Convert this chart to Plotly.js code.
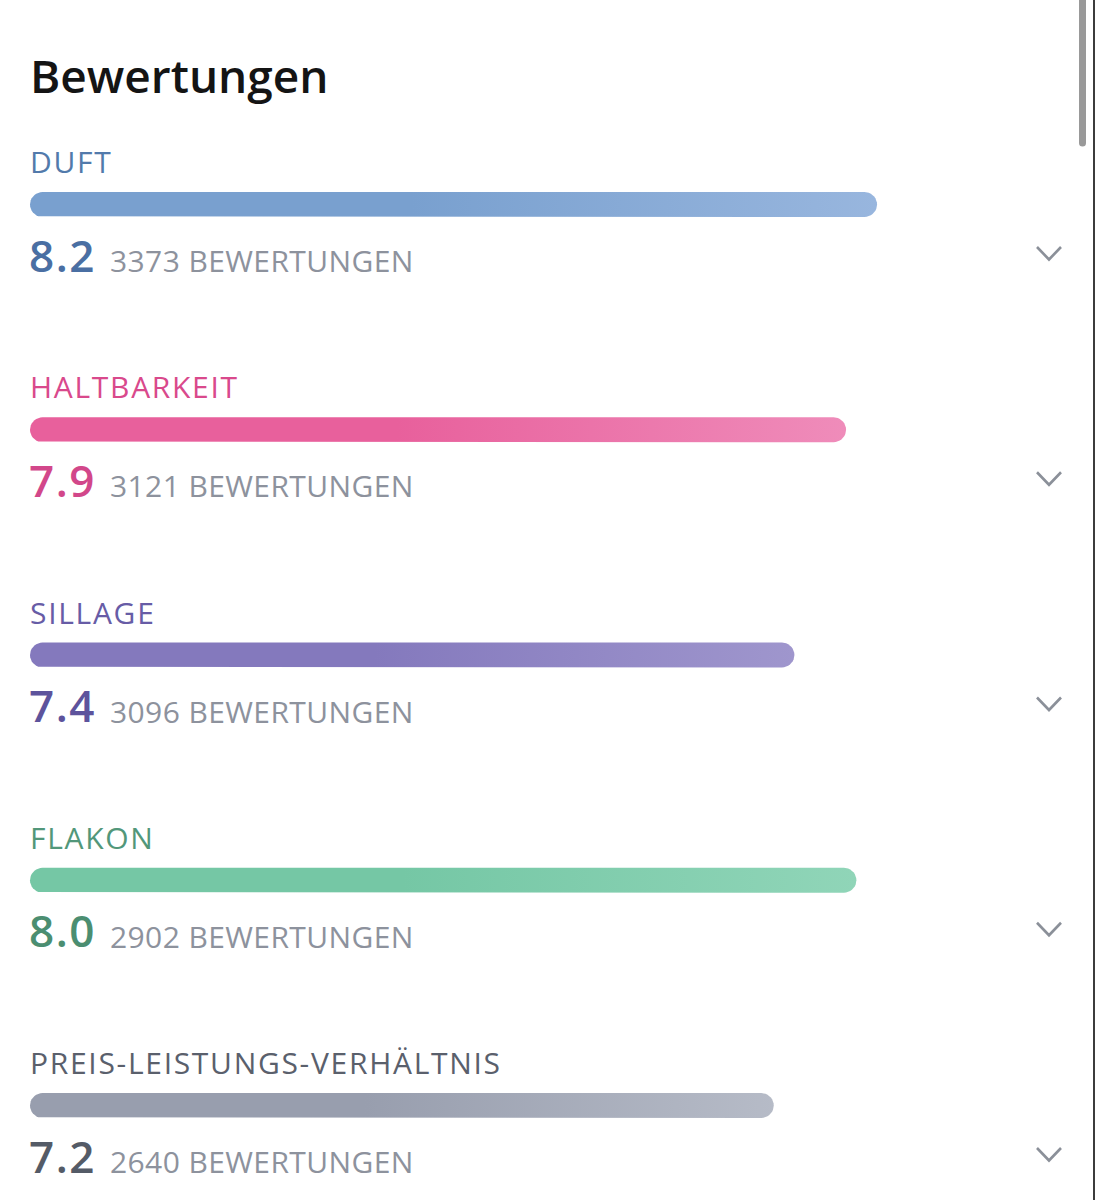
<!DOCTYPE html>
<html>
<head>
<meta charset="utf-8">
<script src="https://cdn.plot.ly/plotly-3.0.1.min.js"></script>
<style>
  html, body { margin: 0; padding: 0; background: #ffffff; }
  #chart { width: 1095px; height: 1200px; }
</style>
</head>
<body>
<div id="chart"></div>
<script>
// Rating categories and their scores (scale 0–10) with vote counts
const categories = ['DUFT', 'HALTBARKEIT', 'SILLAGE', 'FLAKON', 'PREIS-LEISTUNGS-VERHÄLTNIS'];
const scores = [8.2, 7.9, 7.4, 8.0, 7.2];
const votes = [3373, 3121, 3096, 2902, 2640];
const countSuffix = 'BEWERTUNGEN';
const heading = 'Bewertungen';

// Per-category colours: label, score number, bar gradient start / end
const labelColors = ['#527aab', '#d9498c', '#675ca6', '#52977a', '#5a606c'];
const scoreColors = ['#4a6fa3', '#d2478a', '#5d539c', '#4b8e71', '#545b67'];
const barStart = ['#79a0cf', '#e8609c', '#8479bd', '#75c7a5', '#989eae'];
const barEnd = ['#98b6de', '#ef8cba', '#9f96cd', '#90d5b8', '#b6bbc7'];

// Geometry (pixels)
const W = 1095, H = 1200;
const X0 = 30;             // left edge of bars / text
const PX_PER_UNIT = 103.3; // bar length per score point
const ROW0 = 204.5;        // centre of first bar
const ROW_STEP = 225.25;
const BAR_H = 25;
const FONT = 'Open Sans, Noto Sans, sans-serif';

const rUnits = (BAR_H / 2) / PX_PER_UNIT;

// Closed outline of a pill-shaped bar running from 0 to v
function barOutline(v, cy) {
  const r = BAR_H / 2;
  const xs = [], ys = [];
  const n = 18;
  for (let i = 0; i <= n; i++) {
    const a = -Math.PI / 2 + Math.PI * i / n;
    xs.push(v - rUnits + rUnits * Math.cos(a));
    ys.push(cy + r * Math.sin(a));
  }
  for (let i = 0; i <= n; i++) {
    const a = Math.PI / 2 + Math.PI * i / n;
    xs.push(rUnits + rUnits * Math.cos(a));
    ys.push(cy + r * Math.sin(a));
  }
  xs.push(xs[0]); ys.push(ys[0]);
  return { xs, ys };
}

const spaced = (t, px) => `<span style="letter-spacing:${px}px">${t}</span>`;

const traces = [];
const annotations = [];
const shapes = [];

annotations.push({
  xref: 'x2', yref: 'y', x: 28, y: 75, xanchor: 'left', yanchor: 'middle',
  text: heading, showarrow: false,
  font: { family: FONT, size: 46, color: '#141414', weight: 600 }
});

categories.forEach((cat, i) => {
  const cy = ROW0 + i * ROW_STEP;
  const o = barOutline(scores[i], cy);
  traces.push({
    type: 'scatter', mode: 'lines', x: o.xs, y: o.ys,
    fill: 'toself',
    fillcolor: barStart[i],
    fillgradient: {
      type: 'horizontal',
      colorscale: [[0, barStart[i]], [0.45, barStart[i]], [1, barEnd[i]]]
    },
    line: { width: 0, color: 'rgba(0,0,0,0)' },
    hoverinfo: 'skip', showlegend: false
  });

  annotations.push({
    xref: 'x2', yref: 'y', x: 28, y: cy - 43, xanchor: 'left', yanchor: 'middle',
    text: spaced(cat, 1.7), showarrow: false,
    font: { family: FONT, size: 30, color: labelColors[i] }
  });
  annotations.push({
    xref: 'x2', yref: 'y', x: 27, y: cy + 50, xanchor: 'left', yanchor: 'middle',
    text: spaced(scores[i].toFixed(1), 1.5), showarrow: false,
    font: { family: FONT, size: 44, color: scoreColors[i], weight: 600 }
  });
  annotations.push({
    xref: 'x2', yref: 'y', x: 108, y: cy + 56, xanchor: 'left', yanchor: 'middle',
    text: spaced(votes[i] + ' ' + countSuffix, 0.4), showarrow: false,
    font: { family: FONT, size: 30, color: '#8d929d' }
  });

  // expand chevron
  const ccy = cy + 49;
  shapes.push({
    type: 'path', xref: 'x2', yref: 'y',
    path: `M 1037 ${ccy - 6.5} L 1049 ${ccy + 6} L 1061 ${ccy - 6.5}`,
    line: { color: '#8b9099', width: 2.6 }
  });
});

// scrollbar thumb and right border
shapes.push({
  type: 'path', xref: 'x2', yref: 'y',
  path: 'M 1079 0 L 1086 0 L 1086 143 Q 1086 146.5 1082.5 146.5 Q 1079 146.5 1079 143 Z',
  fillcolor: '#999999', line: { width: 0 }
});
shapes.push({
  type: 'line', xref: 'x2', yref: 'y', x0: 1094, x1: 1094, y0: 0, y1: H,
  line: { color: '#3c3c3c', width: 2 }
});

const layout = {
  width: W, height: H,
  margin: { l: 0, r: 0, t: 0, b: 0 },
  paper_bgcolor: '#ffffff', plot_bgcolor: '#ffffff',
  showlegend: false,
  xaxis: {
    range: [-X0 / PX_PER_UNIT, (W - X0) / PX_PER_UNIT],
    visible: false, fixedrange: true
  },
  xaxis2: { range: [0, W], overlaying: 'x', visible: false, fixedrange: true },
  yaxis: { range: [H, 0], visible: false, fixedrange: true },
  annotations, shapes
};

Plotly.newPlot('chart', traces, layout, { staticPlot: true, displayModeBar: false });
</script>
</body>
</html>
